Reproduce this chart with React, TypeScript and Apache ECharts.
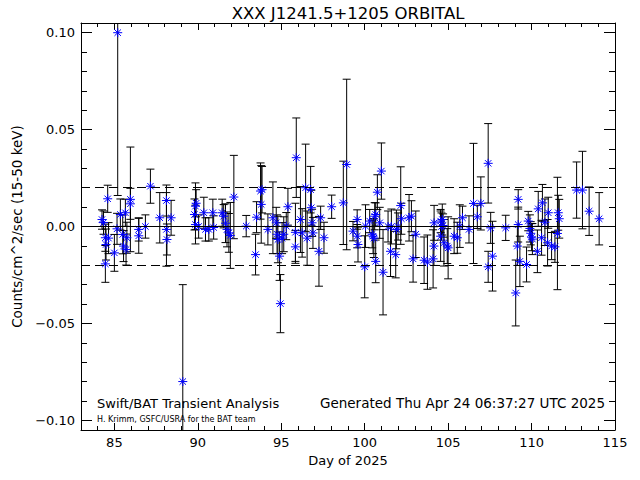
import React, { useEffect, useRef } from "react";
import * as echarts from "echarts";

// ---- data ----
const days = [
  84.26, 84.35, 84.6, 84.46, 84.5, 84.46, 84.65, 85.0, 85.2, 85.16,
  85.36, 85.5, 85.55, 85.66, 85.7, 85.75, 85.96, 85.96, 86.46, 86.46,
  86.86, 87.16, 87.72, 88.12, 88.12, 88.15, 88.4, 89.1,
  89.86, 89.8, 89.86, 89.9, 90.05, 90.36, 90.46, 90.66, 90.9, 90.95,
  91.46, 91.55, 91.66, 91.75, 91.86, 91.95, 92.16, 92.9, 93.46, 93.52,
  93.76, 93.8, 93.85,
  94.2, 94.5, 94.7, 94.75, 94.8, 94.9, 94.95, 95.05, 95.15, 95.3,
  95.4, 95.85, 95.9, 95.85, 96.15, 96.25, 96.46, 96.55, 96.76, 96.8,
  96.85, 96.9, 97.26, 97.36, 97.56, 98.02, 98.72, 98.92,
  99.3, 99.55, 99.55, 99.6, 100.0, 100.05, 100.3, 100.45, 100.5, 100.55,
  100.6, 100.66, 100.66, 100.76, 100.9, 101.0, 101.1, 101.4, 101.55, 101.6,
  101.86, 101.9, 102.0, 102.16, 102.2, 102.66, 102.8, 102.9, 103.06, 103.56,
  103.76, 104.1, 104.15, 104.16,
  104.55, 104.6, 104.65, 104.7, 104.55, 104.75, 104.95, 105.0, 105.36, 105.55,
  105.7, 105.86, 106.25, 106.52, 106.75, 106.96, 107.4, 107.4, 107.66, 107.55,
  108.45, 109.05, 109.2, 109.2, 109.15, 109.3,
  109.7, 109.8, 109.9, 109.95, 110.0, 110.05, 110.35, 110.4, 110.65, 110.6,
  110.8, 110.96, 111.0, 111.2, 111.4, 111.55, 111.6, 111.66, 112.7, 113.05,
  113.45, 114.05,
];

const rates = [
  0.0036, 0.002, 0.0143, -0.0058, -0.0093, -0.0193, -0.006, -0.0136, 0.1, -0.0012,
  0.0062, -0.0041, -0.0101, 0.0071, -0.0119, -0.0058, 0.014, 0.0117, -0.0015, -0.0048,
  0.0, 0.0208, 0.0045, 0.0134, -0.0015, -0.0067, 0.0045, -0.08,
  0.0105, 0.0062, 0.001, 0.012, 0.0, 0.0071, -0.0015, -0.0015, 0.0071, -0.0005,
  0.0071, 0.0053, 0.0017, -0.0015, -0.0033, -0.0046, 0.0152, 0.0002, -0.0145, 0.0048,
  0.0183, 0.0114, 0.019,
  -0.0015, 0.0045, 0.0019, -0.004, -0.0067, -0.0153, -0.0398, -0.006, -0.004, 0.0002,
  0.0102, -0.0105, 0.0355, -0.003, 0.0036, -0.0033, 0.02, -0.006, 0.019, 0.0097,
  0.0019, -0.0033, -0.0128, 0.0045, -0.0058, 0.0102, 0.0122, 0.032,
  -0.0024, 0.0036, -0.005, -0.0093, -0.0208, 0.0002, 0.0028, -0.004, -0.005, -0.006,
  0.0053, 0.0062, -0.018, 0.0177, 0.0019, 0.0286, -0.0236, 0.0, -0.0128, 0.0,
  -0.0145, -0.0015, 0.0, 0.0108, 0.004, 0.0045, 0.0053, -0.0167, -0.004, -0.0174,
  -0.0184, -0.0167, -0.0101, 0.0019,
  0.0028, 0.0, 0.0036, 0.0005, -0.005, -0.0084, -0.0101, -0.011, -0.005, -0.0058,
  0.0002, 0.0045, -0.0015, 0.0119, 0.005, 0.0119, 0.0326, -0.0208, -0.0153, -0.0007,
  -0.0007, -0.0343, 0.014, 0.001, -0.0101, -0.018,
  -0.0196, 0.0028, -0.001, -0.0035, -0.0055, -0.0065, -0.0128, 0.0091, 0.0122, -0.0058,
  0.0022, -0.0084, 0.0071, -0.0101, -0.0105, -0.0036, 0.0071, 0.004, 0.0188, 0.0188,
  0.0079, 0.004,
];

const errors = [
  0.005, 0.006, 0.007, 0.007, 0.008, 0.0095, 0.008, 0.0095, 0.084, 0.008,
  0.008, 0.01, 0.008, 0.007, 0.008, 0.008, 0.027, 0.008, 0.006, 0.009,
  0.006, 0.0088, 0.013, 0.008, 0.019, 0.008, 0.009, 0.05,
  0.012, 0.008, 0.01, 0.007, 0.006, 0.008, 0.006, 0.006, 0.007, 0.006,
  0.007, 0.006, 0.01, 0.009, 0.01, 0.017, 0.0215, 0.0055, 0.0105, 0.008,
  0.0145, 0.02, 0.012,
  0.008, 0.0185, 0.008, 0.01, 0.012, 0.0125, 0.015, 0.008, 0.009, 0.007,
  0.0095, 0.0085, 0.0205, 0.015, 0.017, 0.0125, 0.0225, 0.014, 0.012, 0.009,
  0.007, 0.008, 0.018, 0.006, 0.008, 0.006, 0.0215, 0.044,
  0.005, 0.005, 0.006, 0.009, 0.016, 0.011, 0.006, 0.007, 0.009, 0.01,
  0.007, 0.006, 0.011, 0.009, 0.008, 0.0145, 0.022, 0.008, 0.013, 0.009,
  0.012, 0.01, 0.007, 0.02, 0.008, 0.012, 0.008, 0.012, 0.012, 0.012,
  0.014, 0.015, 0.01, 0.009,
  0.006, 0.007, 0.008, 0.006, 0.013, 0.012, 0.009, 0.016, 0.009, 0.008,
  0.011, 0.006, 0.007, 0.031, 0.006, 0.0137, 0.0205, 0.008, 0.018, 0.008,
  0.0065, 0.017, 0.005, 0.009, 0.01, 0.013,
  0.009, 0.005, 0.007, 0.006, 0.007, 0.008, 0.011, 0.009, 0.0095, 0.009,
  0.012, 0.012, 0.008, 0.007, 0.008, 0.029, 0.009, 0.01, 0.0145, 0.02,
  0.0125, 0.0135,
];

const X_MIN = 83;
const X_MAX = 115;
const Y_MIN = -0.105;
const Y_MAX = 0.105;
const LEVELS_DASHED = [0.021, -0.021];
const LEVEL_ZERO = 0;

const TITLE = "XXX J1241.5+1205 ORBITAL";
const X_NAME = "Day of 2025";
const Y_NAME = "Counts/cm^2/sec (15-50 keV)";
const NOTE_LEFT = "Swift/BAT Transient Analysis";
const NOTE_SMALL = "H. Krimm, GSFC/USRA for the BAT team";
const NOTE_RIGHT = "Generated Thu Apr 24 06:37:27 UTC 2025";

const FONT = "DejaVu Sans";
const BLUE = "#0000ff";

function isMultiple(v: number, step: number) {
  const r = v / step;
  return Math.abs(r - Math.round(r)) < 1e-6;
}

export default function App() {
  const ref = useRef<HTMLDivElement>(null);

  useEffect(() => {
    if (!ref.current) return;
    const chart = echarts.init(ref.current, null, { renderer: "svg" });
    const pts = days.map((d, i) => [d, rates[i], errors[i]]);

    const tickStyle = { color: "#000", width: 1 };
    const baseX = {
      type: "value",
      min: X_MIN,
      max: X_MAX,
      splitNumber: 6,
      axisLine: { show: true, onZero: false, lineStyle: tickStyle },
      axisTick: { show: true, inside: true, length: 7, lineStyle: tickStyle },
      minorTick: { show: true, splitNumber: 5, length: 4, lineStyle: tickStyle },
      splitLine: { show: false },
      minorSplitLine: { show: false },
    };
    const baseY = {
      type: "value",
      min: Y_MIN,
      max: Y_MAX,
      splitNumber: 5,
      axisLine: { show: true, onZero: false, lineStyle: tickStyle },
      axisTick: { show: true, inside: true, length: 11, lineStyle: tickStyle },
      minorTick: { show: true, splitNumber: 5, length: 6, lineStyle: tickStyle },
      splitLine: { show: false },
      minorSplitLine: { show: false },
    };

    const option: any = {
      animation: false,
      backgroundColor: "#fff",
      grid: { left: 81, right: 25, top: 23, bottom: 50, containLabel: false, outerBoundsMode: "none" },
      xAxis: [
        {
          ...baseX,
          position: "bottom",
          axisLabel: {
            show: true,
            margin: 6,
            color: "#000",
            fontFamily: FONT,
            fontSize: 13,
            formatter: (v: number) => (isMultiple(v, 5) ? String(Math.round(v)) : ""),
          },
          name: X_NAME,
          nameLocation: "middle",
          nameGap: 23,
          nameTextStyle: { color: "#000", fontFamily: FONT, fontSize: 13 },
        },
        { ...baseX, position: "top", axisLabel: { show: false } },
      ],
      yAxis: [
        {
          ...baseY,
          position: "left",
          axisLabel: {
            show: true,
            margin: 6,
            color: "#000",
            fontFamily: FONT,
            fontSize: 13,
            formatter: (v: number) =>
              isMultiple(v, 0.05)
                ? (v < -1e-9 ? "\u2212" : "") + Math.abs(v).toFixed(2)
                : "",
          },
          name: Y_NAME,
          nameLocation: "middle",
          nameGap: 51,
          nameRotate: 90,
          nameTextStyle: { color: "#000", fontFamily: FONT, fontSize: 13.5 },
        },
        { ...baseY, position: "right", axisLabel: { show: false } },
      ],
      graphic: [
        {
          type: "text",
          x: 348,
          y: 13,
          style: {
            text: TITLE,
            fill: "#000",
            font: `16.5px "${FONT}"`,
            textAlign: "center",
            textVerticalAlign: "middle",
          },
        },
        {
          type: "text",
          x: 97,
          y: 403,
          style: {
            text: NOTE_LEFT,
            fill: "#000",
            font: `13px "${FONT}"`,
            textAlign: "left",
            textVerticalAlign: "middle",
          },
        },
        {
          type: "text",
          x: 97,
          y: 419,
          style: {
            text: NOTE_SMALL,
            fill: "#000",
            font: `8px "${FONT}"`,
            textAlign: "left",
            textVerticalAlign: "middle",
          },
        },
        {
          type: "text",
          x: 605,
          y: 403,
          style: {
            text: NOTE_RIGHT,
            fill: "#000",
            font: `13.5px "${FONT}"`,
            textAlign: "right",
            textVerticalAlign: "middle",
          },
        },
      ],
      series: [
        {
          type: "line",
          xAxisIndex: 0,
          yAxisIndex: 0,
          data: [],
          z: 1,
          markLine: {
            silent: true,
            symbol: "none",
            label: { show: false },
            animation: false,
            data: [
              { yAxis: LEVEL_ZERO, lineStyle: { color: "#000", width: 1, type: "solid" } },
              ...LEVELS_DASHED.map((v) => ({
                yAxis: v,
                lineStyle: { color: "#000", width: 1, type: [9, 5] },
              })),
            ],
          },
        },
        {
          type: "custom",
          xAxisIndex: 0,
          yAxisIndex: 0,
          clip: true,
          z: 2,
          data: pts,
          encode: { x: 0, y: 1 },
          renderItem: (_p: any, api: any) => {
            const x = api.value(0);
            const y = api.value(1);
            const e = api.value(2);
            const t = api.coord([x, y + e]);
            const b = api.coord([x, y - e]);
            const cw = 4;
            const st = { stroke: "#000", lineWidth: 1 };
            return {
              type: "group",
              children: [
                { type: "line", shape: { x1: t[0], y1: t[1], x2: b[0], y2: b[1] }, style: st },
                { type: "line", shape: { x1: t[0] - cw, y1: t[1], x2: t[0] + cw, y2: t[1] }, style: st },
                { type: "line", shape: { x1: b[0] - cw, y1: b[1], x2: b[0] + cw, y2: b[1] }, style: st },
              ],
            };
          },
        },
        {
          type: "custom",
          xAxisIndex: 0,
          yAxisIndex: 0,
          clip: true,
          z: 3,
          data: pts,
          encode: { x: 0, y: 1 },
          renderItem: (_p: any, api: any) => {
            const c = api.coord([api.value(0), api.value(1)]);
            const r = 4.5;
            const d = 3.2;
            const st = { stroke: BLUE, lineWidth: 1 };
            return {
              type: "group",
              children: [
                { type: "line", shape: { x1: c[0] - r, y1: c[1], x2: c[0] + r, y2: c[1] }, style: st },
                { type: "line", shape: { x1: c[0], y1: c[1] - r, x2: c[0], y2: c[1] + r }, style: st },
                { type: "line", shape: { x1: c[0] - d, y1: c[1] - d, x2: c[0] + d, y2: c[1] + d }, style: st },
                { type: "line", shape: { x1: c[0] - d, y1: c[1] + d, x2: c[0] + d, y2: c[1] - d }, style: st },
              ],
            };
          },
        },
      ],
    };

    chart.setOption(option);
    return () => chart.dispose();
  }, []);

  return (
    <div
      ref={ref}
      style={{ position: "fixed", left: 0, top: 0, width: 640, height: 480, background: "#fff" }}
    />
  );
}
